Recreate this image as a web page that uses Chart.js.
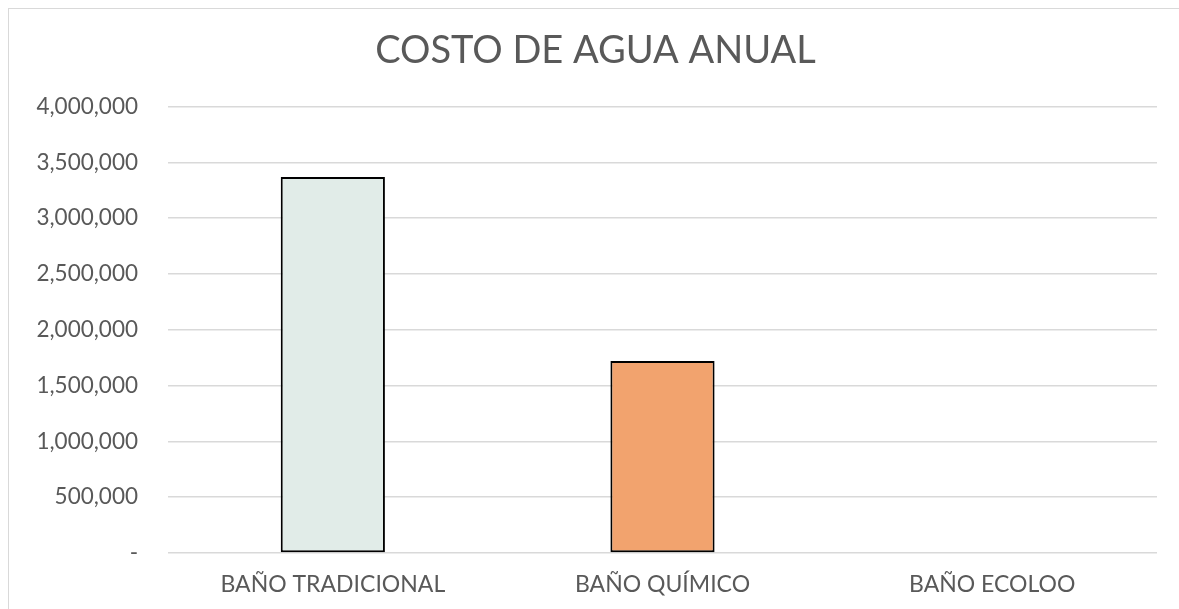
<!DOCTYPE html>
<html>
<head>
<meta charset="utf-8">
<script src="https://cdn.jsdelivr.net/npm/chart.js@4/dist/chart.umd.min.js"></script>
<style>
  html, body { margin: 0; padding: 0; background: #fff; overflow: hidden; }
  #frame { position: absolute; left: 8px; top: 8px; width: 1200px; height: 640px;
           border-left: 1.5px solid #d9d9d9; border-top: 1.5px solid #d9d9d9; }
  #wrap { position: absolute; left: 0; top: 0; width: 1179px; height: 609px; }
</style>
</head>
<body>
<div id="frame"></div>
<div id="wrap"><canvas id="c" width="1179" height="609"></canvas></div>
<script>
const categories = ["BAÑO TRADICIONAL", "BAÑO QUÍMICO", "BAÑO ECOLOO"];
const costoAgua = [3370000, 1720000, 0];
const barColors = ["#E1ECE8", "#F2A36E", "#9DC3B5"];
const chartTitle = "COSTO DE AGUA ANUAL";
const yMin = 0, yMax = 4000000, yStep = 500000;

const FONT = "'Lato', 'Liberation Sans', sans-serif";
const TXT = "#595959";

new Chart(document.getElementById("c"), {
  type: "bar",
  data: {
    labels: categories,
    datasets: [{
      data: costoAgua,
      backgroundColor: barColors,
      borderColor: "#000000",
      borderWidth: 2,
      borderSkipped: false,
      categoryPercentage: 1,
      barPercentage: 0.316
    }]
  },
  options: {
    responsive: false,
    animation: false,
    layout: { padding: { left: 34, right: 22, top: 0, bottom: 0 } },
    plugins: {
      legend: { display: false },
      tooltip: { enabled: false },
      title: {
        display: true,
        text: chartTitle,
        color: TXT,
        font: { family: FONT, size: 38, weight: "normal" },
        padding: { top: 28, bottom: 33 }
      }
    },
    scales: {
      x: {
        grid: { display: false, drawTicks: false },
        border: { display: false },
        ticks: { color: TXT, font: { family: FONT, size: 23 }, padding: 18, maxRotation: 0 },
        afterFit: (s) => { s.height = 56; }
      },
      y: {
        min: yMin, max: yMax,
        grid: { color: "#d9d9d9", lineWidth: 1.5, drawTicks: false },
        border: { display: false },
        ticks: {
          stepSize: yStep,
          color: TXT,
          font: { family: FONT, size: 22.5 },
          padding: 30,
          callback: (v) => v === 0 ? "-" : v.toLocaleString("en-US")
        },
        afterFit: (s) => { s.width = 134; }
      }
    }
  }
});
</script>
</body>
</html>
